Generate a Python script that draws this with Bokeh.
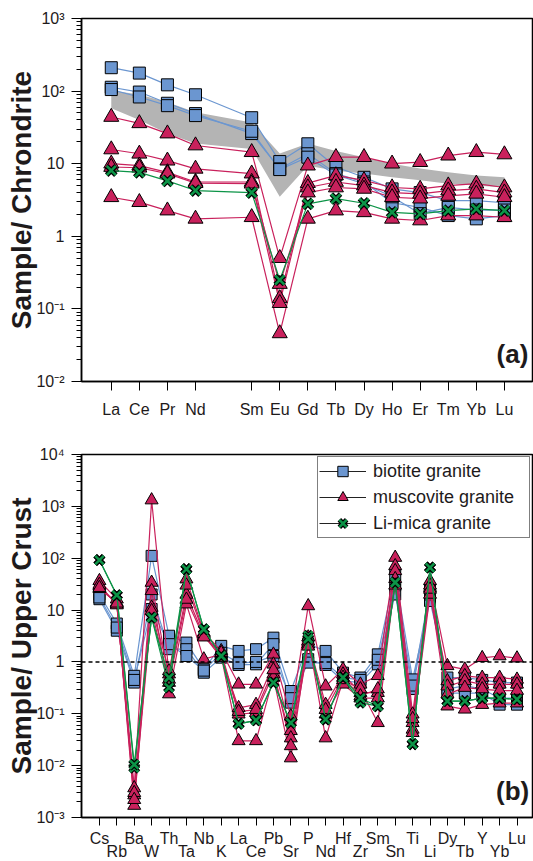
from bokeh.core.properties import value
from bokeh.embed import file_html
from bokeh.layouts import column
from bokeh.models import (CustomJSTickFormatter, FixedTicker, Label, Legend,
                          LegendItem, Span)
from bokeh.plotting import figure
from bokeh.resources import INLINE

# ---------------------------------------------------------------- data
# (a) chondrite-normalised REE
ree_elements = ["La", "Ce", "Pr", "Nd", "Sm", "Eu", "Gd", "Tb", "Dy", "Ho", "Er", "Tm", "Yb", "Lu"]
ree_positions = [1, 2, 3, 4, 6, 7, 8, 9, 10, 11, 12, 13, 14, 15]

ree_band_low = [58, 40, 26, 19, 16, 3.5, 9.4, 8.0, 7.3, 6.5, 5.9, 5.3, 5.0, 4.7]
ree_band_high = [102, 90, 70, 51, 37, 13.8, 19, 15, 12.3, 10, 8.6, 7.6, 6.9, 6.5]

ree_biotite = [
    [210, 177, 122, 89, 43, 10.7, 18.8, 9.0, 6.5, 4.5, 4.0, 3.1, 3.1, 2.9],
    [113, 97, 68, 49, 26, 8.5, 13.7, 7.3, 5.6, 2.9, 2.5, 1.93, 1.74, 1.93],
    [105, 83, 63, 46, 28, 8.3, 12.3, 7.0, 5.3, 3.5, 2.05, 2.5, 2.3, 2.3],
]
ree_muscovite = [
    [44, 36, 26, 17.8, 14.4, 0.50, 9.4, 12.3, 12.3, 10.0, 10.5, 12.9, 14.4, 13.4],
    [15.7, 13.7, 11.0, 8.5, 7.3, 0.14, 5.4, 6.9, 5.9, 4.7, 4.5, 5.0, 5.3, 4.7],
    [10.0, 9.4, 7.6, 5.6, 5.6, 0.12, 4.7, 5.6, 5.0, 4.0, 3.85, 4.27, 4.5, 4.0],
    [9.0, 8.8, 7.3, 5.4, 5.3, 0.22, 4.0, 4.7, 4.5, 3.45, 3.3, 3.6, 3.85, 3.45],
    [3.45, 2.95, 2.26, 1.74, 1.83, 0.046, 1.74, 2.26, 2.14, 1.74, 1.65, 1.93, 1.93, 1.83],
]
ree_limica = [
    [8.05, 7.6, 5.8, 4.27, 4.0, 0.25, 2.8, 3.3, 2.85, 2.14, 2.04, 2.26, 2.39, 2.26],
]

# (b) upper-crust-normalised trace elements
spider_elements = ["Cs", "Rb", "Ba", "W", "Th", "Ta", "Nb", "K", "La", "Ce", "Pb", "Sr", "P",
                   "Nd", "Hf", "Zr", "Sm", "Sn", "Ti", "Li", "Dy", "Tb", "Y", "Yb", "Lu"]

spider_biotite = [
    [20, 5.5, 0.54, 111, 3.2, 2.36, 0.72, 2.04, 1.63, 1.76, 2.94, 0.275, 2.2, 1.63, 0.62,
     0.5, 1.4, 49, 0.46, 15, 0.5, 0.5, 0.45, 0.4, 0.4],
    [16.2, 4.0, 0.40, 20, 1.76, 1.76, 0.62, 1.21, 0.875, 0.9, 2.2, 0.164, 1.13, 0.875, 0.43,
     0.4, 0.9, 20, 0.3, 20, 0.3, 0.35, 0.3, 0.2, 0.2],
    [17.5, 4.6, 0.45, 10.5, 2.2, 1.3, 0.68, 1.5, 0.95, 1.0, 1.3, 0.2, 0.97, 0.95, 0.5,
     0.45, 1.1, 30, 0.35, 25, 0.25, 0.25, 0.25, 0.15, 0.15],
]
spider_muscovite = [
    [36.6, 16.2, 0.0037, 1320, 0.58, 39.5, 3.7, 1.63, 0.37, 0.37, 1.4, 0.09, 12, 0.34, 0.72,
     0.37, 0.54, 103, 0.098, 36.6, 0.84, 0.72, 1.2, 1.3, 1.18],
    [29, 13, 0.0027, 34, 0.46, 20, 3.2, 1.21, 0.13, 0.15, 0.9, 0.047, 2.5, 0.15, 0.58,
     0.255, 0.255, 71, 0.067, 27, 0.43, 0.54, 0.5, 0.5, 0.46],
    [25.7, 14, 0.0017, 23.5, 0.24, 13, 1.13, 1.4, 0.098, 0.105, 0.58, 0.034, 2.2, 0.098, 0.37,
     0.2, 0.2, 57, 0.05, 20, 0.34, 0.43, 0.37, 0.37, 0.37],
    [31, 12.5, 0.003, 11.2, 0.67, 30, 3.5, 1.3, 0.03, 0.03, 0.5, 0.014, 3.0, 0.034, 0.45,
     0.3, 0.067, 40, 0.043, 30, 0.24, 0.32, 0.3, 0.28, 0.28],
    [27, 13.5, 0.0022, 9.7, 0.4, 16, 3.0, 1.5, 0.11, 0.12, 0.7, 0.024, 2.0, 0.12, 0.5,
     0.22, 0.3, 30, 0.08, 25, 0.14, 0.122, 0.15, 0.16, 0.16],
]
spider_limica = [
    [92, 19.4, 0.0091, 7.2, 0.32, 61.6, 4.27, 1.3, 0.064, 0.075, 0.4, 0.067, 3.2, 0.078, 0.5,
     0.164, 0.14, 34, 0.026, 66, 0.176, 0.176, 0.2, 0.2, 0.19],
    [92, 19.4, 0.0105, 7.2, 0.5, 61.6, 4.27, 1.3, 0.064, 0.075, 0.4, 0.067, 2.8, 0.078, 0.5,
     0.2, 0.14, 34, 0.026, 66, 0.176, 0.176, 0.2, 0.2, 0.19],
]

# ---------------------------------------------------------------- styles
FONT = "Liberation Sans"
TEXT = "#1e1a1b"
BLUE = "#6b96d0"
RED = "#c9215c"
GREEN = "#0c9447"
BAND = "#b4b4b4"

YTICK_JS = """
const e = Math.round(Math.log10(tick));
if (e === 0) return "1";
if (e === 1) return "10";
const sup = {"0":"\u2070","1":"\u00b9","2":"\u00b2","3":"\u00b3","4":"\u2074",
             "5":"\u2075","6":"\u2076","7":"\u2077","8":"\u2078","9":"\u2079","-":"\u207b"};
return "10" + String(e).split("").map(c => sup[c]).join("");
"""


def log_ticker(lo, hi):
    majors = [10.0 ** e for e in range(lo, hi + 1)]
    minors = [m * 10.0 ** e for e in range(lo, hi) for m in range(2, 10)]
    return FixedTicker(ticks=majors, minor_ticks=minors)


def make_panel(height, top, bottom, left, x_range, y_range, exps, ylabel):
    p = figure(width=533, height=height, x_range=x_range, y_range=y_range,
               y_axis_type="log", output_backend="svg", toolbar_location=None,
               min_border_left=left, min_border_right=1, min_border_top=top,
               min_border_bottom=bottom)
    p.xgrid.visible = False
    p.ygrid.visible = False
    p.outline_line_color = "black"
    p.outline_line_width = 1.5
    p.background_fill_color = "white"
    p.border_fill_color = "white"

    ya = p.yaxis[0]
    ya.ticker = log_ticker(*exps)
    ya.formatter = CustomJSTickFormatter(code=YTICK_JS)
    ya.axis_line_width = 1.5
    ya.major_tick_in = 0
    ya.major_tick_out = 10
    ya.minor_tick_in = 0
    ya.minor_tick_out = 5
    ya.major_label_text_font = FONT
    ya.major_label_text_font_size = "16px"
    ya.major_label_text_color = TEXT
    ya.major_label_text_align = "center"
    ya.major_label_standoff = 7
    ya.axis_label = ylabel
    ya.axis_label_text_font = FONT
    ya.axis_label_text_font_style = "bold"
    ya.axis_label_text_font_size = "28px"
    ya.axis_label_text_color = TEXT
    ya.axis_label_standoff = -4
    return p


def style_xaxis(ax, tick_out, standoff, font_size="16px"):
    ax.axis_line_width = 1.5
    ax.major_tick_in = 0
    ax.major_tick_out = tick_out
    ax.minor_tick_out = 0
    ax.minor_tick_in = 0
    ax.major_label_text_font = FONT
    ax.major_label_text_font_size = font_size
    ax.major_label_text_color = TEXT
    ax.major_label_standoff = standoff


def draw_group(p, xs, rows, kind, size):
    if kind == "square":
        color = BLUE
    elif kind == "triangle":
        color = RED
    else:
        color = GREEN
    for row in rows:
        p.line(xs, row, line_color=color, line_width=1.2)
    for row in rows:
        if kind == "x":
            p.scatter(xs, row, marker="x", size=size, line_color="black", line_width=5)
            p.scatter(xs, row, marker="x", size=size, line_color=GREEN, line_width=2.6)
        else:
            p.scatter(xs, row, marker=kind, size=size, fill_color=color,
                      line_color="black", line_width=1)


# ---------------------------------------------------------------- (a) REE
p1 = make_panel(428, 18, 47, 77, (-0.06, 16.0), (0.01, 1000), (-2, 3),
                "Sample/ Chrondrite")
xa = p1.xaxis[0]
xa.ticker = FixedTicker(ticks=ree_positions, minor_ticks=[])
xa.formatter = CustomJSTickFormatter(args=dict(pos=ree_positions, names=ree_elements), code="""
const i = pos.indexOf(Math.round(tick));
return i < 0 ? "" : names[i];
""")
style_xaxis(xa, 9, 10)

p1.varea(x=ree_positions, y1=ree_band_low, y2=ree_band_high, fill_color=BAND)
draw_group(p1, ree_positions, ree_biotite, "square", 12)
draw_group(p1, ree_positions, ree_muscovite, "triangle", 15)
draw_group(p1, ree_positions, ree_limica, "x", 13)

p1.add_layout(Label(x=15.85, y=0.024, text="(a)", text_align="right", text_baseline="middle",
                    text_font=FONT, text_font_style="bold", text_font_size="26px",
                    text_color=TEXT))

# ---------------------------------------------------------------- (b) spider
spider_positions = list(range(1, len(spider_elements) + 1))
p2 = make_panel(399, 26, 10, 81, (-0.03, 25.89), (0.001, 10000), (-3, 4),
                "Sample/ Upper Crust")
xb = p2.xaxis[0]
xb.ticker = FixedTicker(ticks=spider_positions, minor_ticks=[])
xb.formatter = CustomJSTickFormatter(code='return "";')
style_xaxis(xb, 8, 0, "0px")

p2.add_layout(Span(location=1, dimension="width", line_color="black",
                   line_dash="4 3", line_width=1.4))

draw_group(p2, spider_positions, spider_biotite, "square", 11)
draw_group(p2, spider_positions, spider_muscovite, "triangle", 13)
draw_group(p2, spider_positions, spider_limica, "x", 12)

p2.add_layout(Label(x=25.7, y=0.0032, text="(b)", text_align="right", text_baseline="middle",
                    text_font=FONT, text_font_style="bold", text_font_size="26px",
                    text_color=TEXT))

# legend: black connecting line with the group's symbol on top
# (one off-range point each, so the legend has something to draw from)
off = dict(x=[-100], y=[1])
leg_line = dict(line_color="#222222", line_width=1)
lb_line = p2.line(**off, **leg_line)
lb_mark = p2.scatter(**off, marker="square", fill_color=BLUE, line_color="black", line_width=1)
lm_line = p2.line(**off, **leg_line)
lm_mark = p2.scatter(**off, marker="triangle", fill_color=RED, line_color="black", line_width=1)
ll_line = p2.line(**off, **leg_line)
ll_mark1 = p2.scatter(**off, marker="x", line_color="black", line_width=5)
ll_mark2 = p2.scatter(**off, marker="x", line_color=GREEN, line_width=2.6)

legend = Legend(items=[
    LegendItem(label="biotite granite", renderers=[lb_line, lb_mark]),
    LegendItem(label="muscovite granite", renderers=[lm_line, lm_mark]),
    LegendItem(label="Li-mica granite", renderers=[ll_line, ll_mark1, ll_mark2]),
], location="top_right")
legend.margin = 2
legend.padding = 1
legend.spacing = 0
legend.glyph_width = 47
legend.glyph_height = 26
legend.label_standoff = 7
legend.label_width = 155
legend.label_text_font = FONT
legend.label_text_font_size = "18px"
legend.label_text_color = TEXT
legend.border_line_color = "black"
legend.border_line_width = 1
legend.background_fill_color = "white"
legend.background_fill_alpha = 1
p2.add_layout(legend)

# element names for (b), in two staggered rows under the shared x scale
names_strip = figure(width=533, height=34, x_range=p2.x_range, y_range=(0, 34),
                     output_backend="svg", toolbar_location=None,
                     x_axis_location=None, y_axis_location=None,
                     min_border_left=81, min_border_right=1, min_border_top=0,
                     min_border_bottom=0)
names_strip.outline_line_color = None
names_strip.xgrid.visible = False
names_strip.ygrid.visible = False
row_style = dict(text_align="center", text_baseline="middle", text_font=value(FONT),
                 text_font_size="16px", text_color=TEXT)
upper_row = spider_positions[0::2]
lower_row = spider_positions[1::2]
names_strip.text(x=upper_row, y=[23.5] * len(upper_row), text=spider_elements[0::2], **row_style)
names_strip.text(x=lower_row, y=[10.5] * len(lower_row), text=spider_elements[1::2], **row_style)

layout = column(p1, p2, names_strip, spacing=0)
open("out.html", "w").write(file_html(layout, INLINE))
